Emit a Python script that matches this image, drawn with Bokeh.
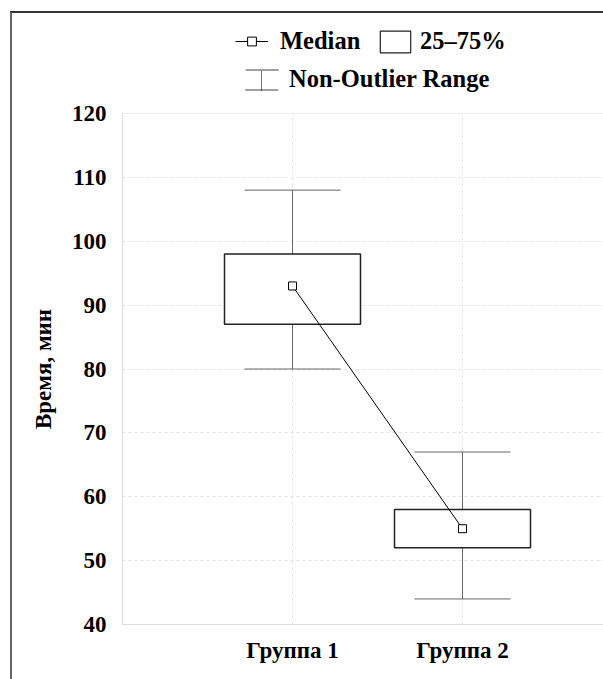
from bokeh.plotting import figure
from bokeh.layouts import column
from bokeh.models import (Range1d, FixedTicker, Legend, LegendItem, Span,
                          ColumnDataSource)
from bokeh.embed import file_html
from bokeh.resources import INLINE

# ---- data ----
groups = ["Группа 1", "Группа 2"]
positions = [1, 2]
medians = [93, 55]
q1 = [87, 52]
q3 = [98, 58]
whisker_low = [80, 44]
whisker_high = [108, 67]
y_ticks = [40, 50, 60, 70, 80, 90, 100, 110, 120]
legend_labels = ["Median", "25–75%", "Non-Outlier Range"]
y_label = "Время, мин"

# ---- style / layout ----
FONT = "Liberation Serif"
BOX_W = 0.8
CAP_W = 0.565
W = 591
LEG_H = 85
H = 581
ML, MB, MT = 110, 55, 15
PX_PER_UNIT = 170.0
x_end = (W - ML) / PX_PER_UNIT
WH = "#666666"
BOX_LC = "#222222"
ICON = "#444444"

src = ColumnDataSource(dict(
    x=positions, med=medians, q1=q1, q3=q3, lo=whisker_low, hi=whisker_high,
    left=[x - BOX_W / 2 for x in positions], right=[x + BOX_W / 2 for x in positions],
    cl=[x - CAP_W / 2 for x in positions], cr=[x + CAP_W / 2 for x in positions]))

p = figure(width=W, height=H, output_backend="svg", toolbar_location=None,
           x_range=Range1d(0, x_end), y_range=Range1d(40, 120),
           min_border_left=ML, min_border_right=0, min_border_top=MT,
           min_border_bottom=MB, outline_line_color=None)

p.segment(x0="x", y0="lo", x1="x", y1="hi", source=src, line_color=WH, line_width=1)
p.segment(x0="cl", y0="lo", x1="cr", y1="lo", source=src, line_color=WH, line_width=1)
p.segment(x0="cl", y0="hi", x1="cr", y1="hi", source=src, line_color=WH, line_width=1)
p.quad(left="left", right="right", bottom="q1", top="q3", source=src,
       fill_color="white", line_color=BOX_LC, line_width=1.5)
p.line(x="x", y="med", source=src, line_color="black", line_width=1)
p.scatter(x="x", y="med", source=src, marker="square", size=8,
          fill_color="white", line_color="black", line_width=1)

# axes
for ax in (p.xaxis[0], p.yaxis[0]):
    ax.axis_line_color = "#dddddd"
    ax.major_tick_line_color = None
    ax.minor_tick_line_color = None
    ax.major_label_text_font = FONT
    ax.major_label_text_font_style = "bold"
    ax.major_label_text_font_size = "23px"
    ax.major_label_text_color = "black"

p.xaxis.ticker = FixedTicker(ticks=positions)
p.xaxis.major_label_overrides = dict(zip(positions, groups))
p.xaxis.major_label_standoff = 7
p.yaxis.ticker = FixedTicker(ticks=y_ticks)
p.yaxis.major_label_standoff = 10
p.yaxis.axis_label = y_label
p.yaxis.axis_label_text_font = FONT
p.yaxis.axis_label_text_font_style = "bold"
p.yaxis.axis_label_text_font_size = "23px"
p.yaxis.axis_label_text_color = "black"
p.yaxis.axis_label_standoff = 13

p.xgrid.ticker = FixedTicker(ticks=positions)
for g in (p.xgrid[0], p.ygrid[0]):
    g.grid_line_color = "#e4e4e4"
    g.grid_line_dash = "3 3"

p.add_layout(Span(location=y_ticks[-1], dimension="width", line_color="#dddddd", line_width=1))

# ---- legend strip (separate small figure above the plot; its ranges keep the
#      shared data out of view, so only the legend swatches are drawn) ----
lf = figure(width=W, height=LEG_H, output_backend="svg", toolbar_location=None,
            x_range=Range1d(-2, -1), y_range=Range1d(0, 1),
            min_border_left=0, min_border_right=0, min_border_top=0, min_border_bottom=0,
            outline_line_color=None)
lf.axis.visible = False
lf.grid.visible = False

l_med_line = lf.line(x="x", y="med", source=src, line_color="black", line_width=1)
l_med_pt = lf.scatter(x="x", y="med", source=src, marker="square", size=8,
                      fill_color="white", line_color="black", line_width=1)
l_box = lf.quad(left="left", right="right", bottom="q1", top="q3", source=src,
                fill_color="white", line_color=BOX_LC, line_width=1.2)
# whisker symbol: caps = top/bottom edges of a dashed rectangle, stem = a 1px-wide rectangle
l_caps = lf.quad(left="cl", right="cr", bottom="lo", top="hi", source=src,
                 fill_color=None, line_color=ICON, line_width=1.2, line_dash="33 20")
l_stem = lf.quad(left="cl", right="cr", bottom="lo", top="hi", source=src,
                 fill_color=None, line_color=ICON, line_width=0.8)

common = dict(padding=0, margin=0, border_line_color=None, background_fill_alpha=0,
              label_text_font=FONT, label_text_font_style="bold",
              label_text_font_size="24.5px", label_text_color="black",
              orientation="horizontal")

leg_med = Legend(items=[LegendItem(label=legend_labels[0], renderers=[l_med_line, l_med_pt])],
                 location=(113, 43), glyph_width=33, glyph_height=22, label_standoff=12,
                 **common)
leg_box = Legend(items=[LegendItem(label=legend_labels[1], renderers=[l_box])],
                 location=(254, 43), glyph_width=38, glyph_height=27, label_standoff=6,
                 **common)
leg_rng = Legend(items=[LegendItem(label=legend_labels[2], renderers=[l_caps])],
                 location=(119, 5), glyph_width=41, glyph_height=25, label_standoff=7,
                 **common)
leg_stem = Legend(items=[LegendItem(label=" ", renderers=[l_stem])],
                  location=(139, 5), glyph_width=1, glyph_height=25, label_standoff=0,
                  **common)
for lg in (leg_med, leg_box, leg_rng, leg_stem):
    lf.add_layout(lg, "center")

layout = column(lf, p, spacing=0,
                styles={"border-left": "2px solid #666666", "border-top": "2px solid #333333",
                        "margin-left": "10px", "margin-top": "11px"})

open("out.html", "w").write(file_html(layout, INLINE))
